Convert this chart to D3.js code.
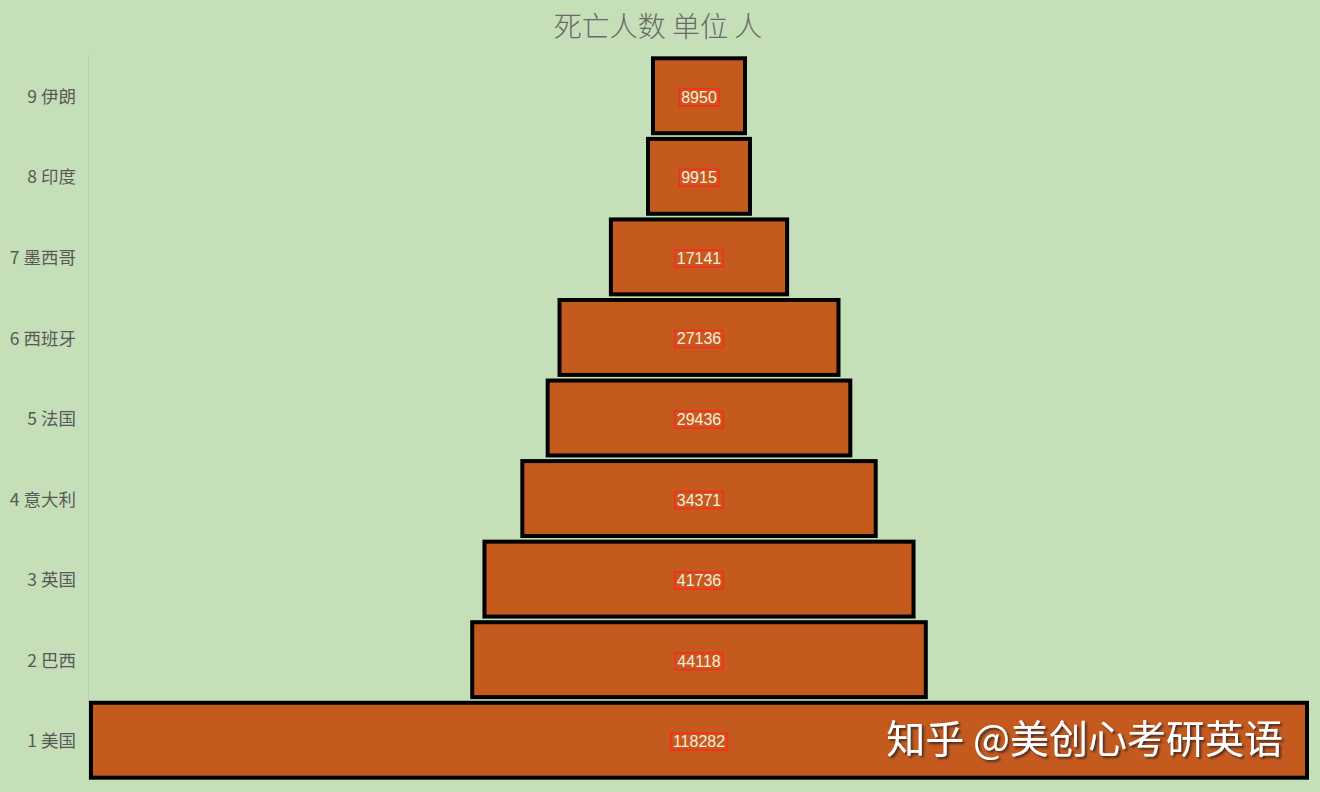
<!DOCTYPE html>
<html><head><meta charset="utf-8">
<script src="https://cdn.jsdelivr.net/npm/d3@7"></script>
<style>html,body{margin:0;padding:0;background:#c5dfb8;}svg{display:block;}</style>
</head><body>
<svg id="c" width="1320" height="792"></svg>
<script>
const categories = ["1 美国","2 巴西","3 英国","4 意大利","5 法国","6 西班牙","7 墨西哥","8 印度","9 伊朗"];
const deaths = [118282,44118,41736,34371,29436,27136,17141,9915,8950];
const title = "死亡人数 单位 人";
const watermark = "知乎 @美创心考研英语";

const W=1320,H=792;
const svg=d3.select("#c");
const font="'Noto Sans CJK SC','Noto Sans',sans-serif";
svg.append("rect").attr("width",W).attr("height",H).attr("fill","#c5dfb8");

const data=categories.map((c,i)=>({cat:c,v:deaths[i]}));
const maxV=d3.max(deaths);
const x=d3.scaleLinear().domain([-maxV/2,maxV/2]).range([91,1307]);
const y=d3.scaleBand().domain(categories.slice().reverse()).range([55.5,780.5]).paddingInner(0.07).paddingOuter(0.035);

// axis line
svg.append("line").attr("x1",88.5).attr("x2",88.5).attr("y1",55).attr("y2",781)
  .attr("stroke","#b5cfa8").attr("stroke-width",1);

// category labels
const yAxis=d3.axisLeft(y).tickSize(0).tickPadding(0);
const ga=svg.append("g").attr("transform","translate(76,1.5)").call(yAxis);
ga.select(".domain").remove();
ga.selectAll("text").attr("font-family",font).attr("font-size",17.5).attr("fill","#595959");

// bars
svg.append("g").selectAll("rect").data(data).join("rect")
  .attr("x",d=>x(-d.v/2)).attr("width",d=>x(d.v/2)-x(-d.v/2))
  .attr("y",d=>y(d.cat)).attr("height",y.bandwidth())
  .attr("fill","#c55a1f").attr("stroke","#000").attr("stroke-width",4);

// data labels
const lg=svg.append("g").selectAll("g").data(data).join("g")
  .attr("transform",d=>`translate(${x(0)},${y(d.cat)+y.bandwidth()/2+1.5})`);
lg.append("text").text(d=>d.v).attr("text-anchor","middle").attr("dominant-baseline","central")
  .attr("font-family","'Liberation Sans','Noto Sans',sans-serif").attr("font-size",16).attr("fill","#fbeadc");
lg.each(function(){
  const g=d3.select(this);const b=g.select("text").node().getBBox();
  g.insert("rect","text").attr("x",b.x-2).attr("y",b.y).attr("width",b.width+4).attr("height",b.height)
   .attr("fill","none").attr("stroke","#ff2a1a").attr("stroke-width",1.5);
});

// title
svg.append("text").text(title).attr("x",658).attr("y",25).attr("text-anchor","middle")
  .attr("dominant-baseline","central").attr("font-family",font).attr("font-weight",300)
  .attr("font-size",28).attr("fill","#6a6a6a");

// watermark
const defs=svg.append("defs");
const f=defs.append("filter").attr("id","sh").attr("x","-10%").attr("y","-30%").attr("width","120%").attr("height","160%");
f.append("feDropShadow").attr("dx",2).attr("dy",2).attr("stdDeviation",1).attr("flood-color","#3a2a20").attr("flood-opacity",0.9);
svg.append("text").text(watermark).attr("x",1283).attr("y",736).attr("text-anchor","end")
  .attr("dominant-baseline","central").attr("font-family",font).attr("font-size",39).attr("fill","#ffffff")
  .attr("filter","url(#sh)");
</script>
</body></html>
